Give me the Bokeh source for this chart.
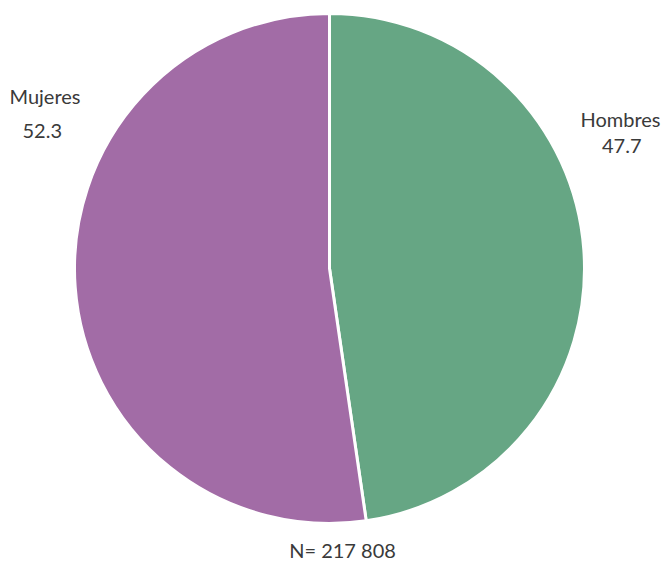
import math
from bokeh.plotting import figure
from bokeh.models import Range1d, ColumnDataSource
from bokeh.core.properties import value
from bokeh.embed import file_html
from bokeh.resources import INLINE

categories = ["Hombres", "Mujeres"]
shares = [47.7, 52.3]
colors = ["#66a684", "#a26ca6"]
total_label = "N= 217 808"

# angles: start at top, clockwise
starts, ends = [], []
cum = 0.0
for s in shares:
    a0 = math.pi / 2 - 2 * math.pi * cum / 100.0
    cum += s
    a1 = math.pi / 2 - 2 * math.pi * cum / 100.0
    starts.append(a1)
    ends.append(a0)

src = ColumnDataSource(dict(start=starts, end=ends, color=colors, cat=categories))

W, H = 663, 563
p = figure(width=W, height=H, output_backend="svg", toolbar_location=None,
           x_range=Range1d(0, W), y_range=Range1d(0, H),
           min_border=0, outline_line_color=None)
p.axis.visible = False
p.grid.visible = False
p.background_fill_color = "white"

cx, cy, r = 329, H - 268, 255
p.wedge(x=cx, y=cy, radius=r, start_angle="start", end_angle="end",
        direction="anticlock", fill_color="color", line_color="white",
        line_width=3, source=src)

font = value("Lato")
tc = "#3a3a3a"
fs = "20px"
dy = 9  # baseline correction
# Hombres label
p.text(x=[660], y=[H - 127 + dy], text=[categories[0]], text_font=font, text_font_size=fs,
       text_color=tc, text_align="right", text_baseline="alphabetic")
p.text(x=[641], y=[H - 154 + dy], text=[f"{shares[0]:.1f}"], text_font=font, text_font_size=fs,
       text_color=tc, text_align="right", text_baseline="alphabetic")
# Mujeres label
p.text(x=[9], y=[H - 104 + dy], text=[categories[1]], text_font=font, text_font_size=fs,
       text_color=tc, text_align="left", text_baseline="alphabetic")
p.text(x=[22], y=[H - 139 + dy], text=[f"{shares[1]:.1f}"], text_font=font, text_font_size=fs,
       text_color=tc, text_align="left", text_baseline="alphabetic")
# total
p.text(x=[342], y=[H - 558 + dy], text=[total_label], text_font=font, text_font_size=fs,
       text_color=tc, text_align="center", text_baseline="alphabetic")

open("out.html", "w").write(file_html(p, INLINE))
